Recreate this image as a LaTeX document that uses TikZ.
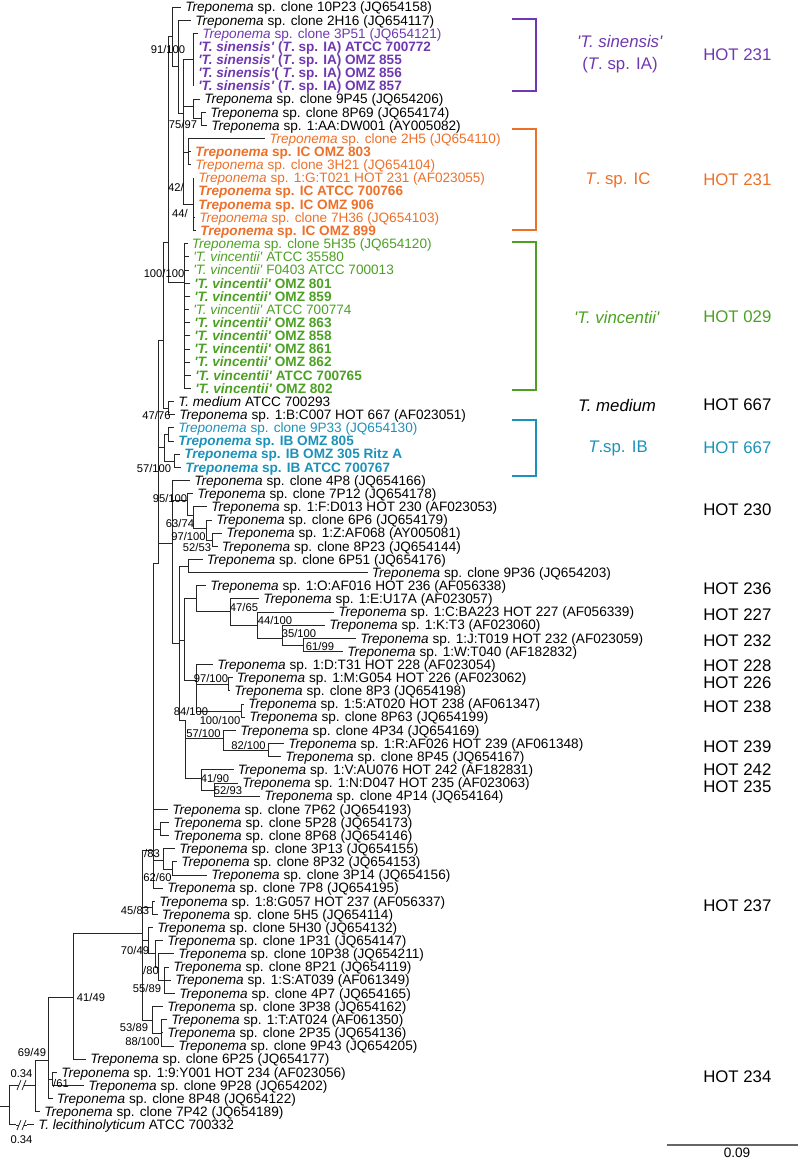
\documentclass[tikz,border=0pt]{standalone}
\usepackage{fontspec}
\setmainfont{Liberation Sans}
\definecolor{sinpurple}{RGB}{112,56,176}
\definecolor{icorange}{RGB}{237,112,42}
\definecolor{vingreen}{RGB}{76,160,36}
\definecolor{ibteal}{RGB}{28,146,186}
\newcommand{\Tr}{\textit{Treponema}}
\newcommand{\qs}{\textquotesingle}
\newcommand{\sinn}{\textit{\qs T. sinensis\qs}}
\newcommand{\vin}{\textit{\qs T. vincentii\qs}}
\tikzset{
  br/.style={draw=black!85,line width=0.6pt},
  leaf/.style={anchor=west,inner xsep=3pt,inner ysep=0pt,text height=7.3pt,text depth=0pt,font=\fontsize{10.2}{11}\selectfont},
  boot/.style={inner sep=0pt,font=\fontsize{8.4}{9}\selectfont},
  clade/.style={inner sep=0pt,align=center,font=\fontsize{12.6}{16.5}\selectfont},
  hot/.style={anchor=west,inner sep=0pt,font=\fontsize{12.6}{15}\selectfont},
  brk/.style={line width=1.1pt}
}
\begin{document}
\begin{tikzpicture}[x=0.75pt,y=-0.75pt]
  \useasboundingbox (0,0) rectangle (800,1162);
  % leaves
  \node[leaf] (l1) at (181,7.0) {\Tr{} sp. clone 10P23 (JQ654158)};
  \node[leaf] (l2) at (191,20.2) {\Tr{} sp. clone 2H16 (JQ654117)};
  \node[leaf,text=sinpurple] (l3) at (198,33.3) {\Tr{} sp. clone 3P51 (JQ654121)};
  \node[leaf,text=sinpurple] (l4) at (194,46.5) {\textbf{\sinn{} (\textit{T}. sp. IA) ATCC 700772}};
  \node[leaf,text=sinpurple] (l5) at (194,59.6) {\textbf{\sinn{} (\textit{T}. sp. IA) OMZ 855}};
  \node[leaf,text=sinpurple] (l6) at (194,72.8) {\textbf{\sinn( \textit{T}. sp. IA) OMZ 856}};
  \node[leaf,text=sinpurple] (l7) at (194,85.9) {\textbf{\sinn{} (\textit{T}. sp. IA) OMZ 857}};
  \node[leaf] (l8) at (200,99.1) {\Tr{} sp. clone 9P45 (JQ654206)};
  \node[leaf] (l9) at (206,112.2) {\Tr{} sp. clone 8P69 (JQ654174)};
  \node[leaf] (l10) at (207,125.4) {\Tr{} sp. 1:AA:DW001 (AY005082)};
  \node[leaf,text=icorange] (l11) at (265,138.5) {\Tr{} sp. clone 2H5 (JQ654110)};
  \node[leaf,text=icorange] (l12) at (191,151.7) {\textbf{\Tr{} sp. IC OMZ 803}};
  \node[leaf,text=icorange] (l13) at (191,164.8) {\Tr{} sp. clone 3H21 (JQ654104)};
  \node[leaf,text=icorange] (l14) at (194,178.0) {\Tr{} sp. 1:G:T021 HOT 231 (AF023055)};
  \node[leaf,text=icorange] (l15) at (194,191.1) {\textbf{\Tr{} sp. IC ATCC 700766}};
  \node[leaf,text=icorange] (l16) at (194,204.3) {\textbf{\Tr{} sp. IC OMZ 906}};
  \node[leaf,text=icorange] (l17) at (195,217.4) {\Tr{} sp. clone 7H36 (JQ654103)};
  \node[leaf,text=icorange] (l18) at (196,230.6) {\textbf{\Tr{} sp. IC OMZ 899}};
  \node[leaf,text=vingreen] (l19) at (187.5,243.7) {\Tr{} sp. clone 5H35 (JQ654120)};
  \node[leaf,text=vingreen] (l20) at (189,256.9) {\vin{} ATCC 35580};
  \node[leaf,text=vingreen] (l21) at (189,270.0) {\vin{} F0403 ATCC 700013};
  \node[leaf,text=vingreen] (l22) at (190,283.2) {\textbf{\vin{} OMZ 801}};
  \node[leaf,text=vingreen] (l23) at (190,296.3) {\textbf{\vin{} OMZ 859}};
  \node[leaf,text=vingreen] (l24) at (189,309.5) {\vin{} ATCC 700774};
  \node[leaf,text=vingreen] (l25) at (190,322.6) {\textbf{\vin{} OMZ 863}};
  \node[leaf,text=vingreen] (l26) at (190,335.8) {\textbf{\vin{} OMZ 858}};
  \node[leaf,text=vingreen] (l27) at (190,348.9) {\textbf{\vin{} OMZ 861}};
  \node[leaf,text=vingreen] (l28) at (190,362.1) {\textbf{\vin{} OMZ 862}};
  \node[leaf,text=vingreen] (l29) at (191,375.2) {\textbf{\vin{} ATCC 700765}};
  \node[leaf,text=vingreen] (l30) at (191,388.4) {\textbf{\vin{} OMZ 802}};
  \node[leaf] (l31) at (174,401.5) {\textit{T. medium} ATCC 700293};
  \node[leaf] (l32) at (175,414.7) {\Tr{} sp. 1:B:C007 HOT 667 (AF023051)};
  \node[leaf,text=ibteal] (l33) at (174,427.8) {\Tr{} sp. clone 9P33 (JQ654130)};
  \node[leaf,text=ibteal] (l34) at (174,441.0) {\textbf{\Tr{} sp. IB OMZ 805}};
  \node[leaf,text=ibteal] (l35) at (180,454.1) {\textbf{\Tr{} sp. IB OMZ 305 Ritz A}};
  \node[leaf,text=ibteal] (l36) at (181,467.3) {\textbf{\Tr{} sp. IB ATCC 700767}};
  \node[leaf] (l37) at (190,480.4) {\Tr{} sp. clone 4P8 (JQ654166)};
  \node[leaf] (l38) at (193,493.6) {\Tr{} sp. clone 7P12 (JQ654178)};
  \node[leaf] (l39) at (207,506.7) {\Tr{} sp. 1:F:D013 HOT 230 (AF023053)};
  \node[leaf] (l40) at (212,519.9) {\Tr{} sp. clone 6P6 (JQ654179)};
  \node[leaf] (l41) at (222,533.0) {\Tr{} sp. 1:Z:AF068 (AY005081)};
  \node[leaf] (l42) at (217.5,546.2) {\Tr{} sp. clone 8P23 (JQ654144)};
  \node[leaf] (l43) at (202.5,559.3) {\Tr{} sp. clone 6P51 (JQ654176)};
  \node[leaf] (l44) at (367.5,572.5) {\Tr{} sp. clone 9P36 (JQ654203)};
  \node[leaf] (l45) at (206,585.6) {\Tr{} sp. 1:O:AF016 HOT 236 (AF056338)};
  \node[leaf] (l46) at (259,598.8) {\Tr{} sp. 1:E:U17A (AF023057)};
  \node[leaf] (l47) at (334,611.9) {\Tr{} sp. 1:C:BA223 HOT 227 (AF056339)};
  \node[leaf] (l48) at (325,625.1) {\Tr{} sp. 1:K:T3 (AF023060)};
  \node[leaf] (l49) at (356,638.2) {\Tr{} sp. 1:J:T019 HOT 232 (AF023059)};
  \node[leaf] (l50) at (343,651.4) {\Tr{} sp. 1:W:T040 (AF182832)};
  \node[leaf] (l51) at (213,664.5) {\Tr{} sp. 1:D:T31 HOT 228 (AF023054)};
  \node[leaf] (l52) at (232.5,677.7) {\Tr{} sp. 1:M:G054 HOT 226 (AF023062)};
  \node[leaf] (l53) at (230,690.8) {\Tr{} sp. clone 8P3 (JQ654198)};
  \node[leaf] (l54) at (244,704.0) {\Tr{} sp. 1:5:AT020 HOT 238 (AF061347)};
  \node[leaf] (l55) at (245,717.1) {\Tr{} sp. clone 8P63 (JQ654199)};
  \node[leaf] (l56) at (236,730.3) {\Tr{} sp. clone 4P34 (JQ654169)};
  \node[leaf] (l57) at (284,743.4) {\Tr{} sp. 1:R:AF026 HOT 239 (AF061348)};
  \node[leaf] (l58) at (281,756.6) {\Tr{} sp. clone 8P45 (JQ654167)};
  \node[leaf] (l59) at (233.5,769.7) {\Tr{} sp. 1:V:AU076 HOT 242 (AF182831)};
  \node[leaf] (l60) at (238,782.9) {\Tr{} sp. 1:N:D047 HOT 235 (AF023063)};
  \node[leaf] (l61) at (260,796.0) {\Tr{} sp. clone 4P14 (JQ654164)};
  \node[leaf] (l62) at (168,809.2) {\Tr{} sp. clone 7P62 (JQ654193)};
  \node[leaf] (l63) at (169,822.3) {\Tr{} sp. clone 5P28 (JQ654173)};
  \node[leaf] (l64) at (169,835.5) {\Tr{} sp. clone 8P68 (JQ654146)};
  \node[leaf] (l65) at (175,848.6) {\Tr{} sp. clone 3P13 (JQ654155)};
  \node[leaf] (l66) at (177,861.8) {\Tr{} sp. clone 8P32 (JQ654153)};
  \node[leaf] (l67) at (207,874.9) {\Tr{} sp. clone 3P14 (JQ654156)};
  \node[leaf] (l68) at (163,888.1) {\Tr{} sp. clone 7P8 (JQ654195)};
  \node[leaf] (l69) at (155,901.2) {\Tr{} sp. 1:8:G057 HOT 237 (AF056337)};
  \node[leaf] (l70) at (157.5,914.4) {\Tr{} sp. clone 5H5 (JQ654114)};
  \node[leaf] (l71) at (153,927.5) {\Tr{} sp. clone 5H30 (JQ654132)};
  \node[leaf] (l72) at (163,940.7) {\Tr{} sp. clone 1P31 (JQ654147)};
  \node[leaf] (l73) at (174,953.8) {\Tr{} sp. clone 10P38 (JQ654211)};
  \node[leaf] (l74) at (169,967.0) {\Tr{} sp. clone 8P21 (JQ654119)};
  \node[leaf] (l75) at (171,980.1) {\Tr{} sp. 1:S:AT039 (AF061349)};
  \node[leaf] (l76) at (175,993.3) {\Tr{} sp. clone 4P7 (JQ654165)};
  \node[leaf] (l77) at (163,1006.4) {\Tr{} sp. clone 3P38 (JQ654162)};
  \node[leaf] (l78) at (167,1019.6) {\Tr{} sp. 1:T:AT024 (AF061350)};
  \node[leaf] (l79) at (163,1032.7) {\Tr{} sp. clone 2P35 (JQ654136)};
  \node[leaf] (l80) at (174,1045.9) {\Tr{} sp. clone 9P43 (JQ654205)};
  \node[leaf] (l81) at (86,1059.0) {\Tr{} sp. clone 6P25 (JQ654177)};
  \node[leaf] (l82) at (57,1072.2) {\Tr{} sp. 1:9:Y001 HOT 234 (AF023056)};
  \node[leaf] (l83) at (84,1085.3) {\Tr{} sp. clone 9P28 (JQ654202)};
  \node[leaf] (l84) at (52.5,1098.5) {\Tr{} sp. clone 8P48 (JQ654122)};
  \node[leaf] (l85) at (40,1111.6) {\Tr{} sp. clone 7P42 (JQ654189)};
  \node[leaf] (l86) at (34,1124.8) {\textit{T. lecithinolyticum} ATCC 700332};
  % inner nodes
  \coordinate (rt0) at (0,1106); \coordinate (root) at (9,1106);
  \coordinate (n69) at (35,1085); \coordinate (n45) at (48,1060);
  \coordinate (n61) at (52.5,1079); \coordinate (n41) at (73,997);
  \coordinate (n133) at (142.5,933); \coordinate (n143) at (153,850);
  \coordinate (nG057) at (152,907); \coordinate (n70) at (148,940);
  \coordinate (n1P31) at (155,953); \coordinate (n10P38) at (158.5,967);
  \coordinate (n80) at (164,980); \coordinate (n53) at (152,1020);
  \coordinate (n88) at (161,1033); \coordinate (n5P28) at (160,829);
  \coordinate (n3P13) at (163,860); \coordinate (n8P32) at (172.5,869);
  \coordinate (n148) at (158.5,563); \coordinate (n152) at (163,340);
  \coordinate (nV) at (168,242); \coordinate (n91) at (172.5,36);
  \coordinate (n2) at (178,66); \coordinate (n3) at (183,113);
  \coordinate (nSin) at (193,59); \coordinate (n9P45) at (193,106);
  \coordinate (n8P69) at (201,118); \coordinate (nICa) at (188.5,152);
  \coordinate (nICb) at (193,204); \coordinate (nVinc) at (184,282);
  \coordinate (n47) at (168,408); \coordinate (nIB) at (164,447);
  \coordinate (n9P33) at (168,434); \coordinate (nRitz) at (174.5,461);
  \coordinate (n161) at (172.5,543); \coordinate (n7P12) at (187.5,500);
  \coordinate (n63) at (193,515); \coordinate (n97) at (206,528);
  \coordinate (n52) at (212,540); \coordinate (n167) at (179,643);
  \coordinate (n6P51) at (188.5,566); \coordinate (n172) at (184,640);
  \coordinate (n236) at (196,598); \coordinate (n4765) at (230,611);
  \coordinate (n44) at (257,625); \coordinate (n35) at (282,638);
  \coordinate (n6199) at (303,645); \coordinate (n84) at (196,680);
  \coordinate (nMG) at (228,684); \coordinate (n100) at (241,711);
  \coordinate (nD) at (185,720); \coordinate (n57) at (223,738);
  \coordinate (n82) at (268,750); \coordinate (n242) at (201,778);
  \coordinate (n5293) at (214,790);
  % branches
  \draw[br] (rt0) -- (root);
  \foreach \p/\c in {root/n69,root/l86.west,n69/n45,n69/l85.west,
      n45/n41,n45/n61,n45/l84.west,n61/l82.west,n61/l83.west,n41/n133,n41/l81.west,
      n133/n143,n133/nG057,n133/n70,n133/n53,nG057/l69.west,nG057/l70.west,
      n70/l71.west,n70/n1P31,n1P31/l72.west,n1P31/n10P38,n10P38/l73.west,n10P38/n80,
      n80/l74.west,n80/l75.west,n80/l76.west,n53/l77.west,n53/n88,
      n88/l78.west,n88/l79.west,n88/l80.west,
      n143/n148,n143/l62.west,n143/n5P28,n143/n3P13,n143/l68.west,
      n5P28/l63.west,n5P28/l64.west,n3P13/l65.west,n3P13/n8P32,n8P32/l66.west,n8P32/l67.west,
      n148/n152,n148/nIB,n148/n161,n152/nV,n152/n47,nV/n91,nV/nVinc,
      n91/l1.west,n91/n2,n2/l2.west,n2/n3,n3/nSin,n3/n9P45,n3/nICa,n3/nICb,
      nSin/l3.west,nSin/l4.west,nSin/l5.west,nSin/l6.west,nSin/l7.west,
      n9P45/l8.west,n9P45/n8P69,n8P69/l9.west,n8P69/l10.west,
      nICa/l11.west,nICa/l12.west,nICa/l13.west,
      nICb/l14.west,nICb/l15.west,nICb/l16.west,nICb/l17.west,nICb/l18.west,
      nVinc/l19.west,nVinc/l20.west,nVinc/l21.west,nVinc/l22.west,nVinc/l23.west,nVinc/l24.west,
      nVinc/l25.west,nVinc/l26.west,nVinc/l27.west,nVinc/l28.west,nVinc/l29.west,nVinc/l30.west,
      n47/l31.west,n47/l32.west,nIB/n9P33,nIB/nRitz,n9P33/l33.west,n9P33/l34.west,
      nRitz/l35.west,nRitz/l36.west,
      n161/l37.west,n161/n7P12,n161/n167,n7P12/l38.west,n7P12/n63,n63/l39.west,n63/n97,
      n97/l40.west,n97/n52,n52/l41.west,n52/l42.west,
      n167/n6P51,n167/n172,n167/nD,n6P51/l43.west,n6P51/l44.west,
      n172/n236,n172/n84,n236/l45.west,n236/n4765,n4765/l46.west,n4765/n44,
      n44/l47.west,n44/n35,n35/l48.west,n35/n6199,n6199/l49.west,n6199/l50.west,
      n84/l51.west,n84/nMG,n84/n100,nMG/l52.west,nMG/l53.west,n100/l54.west,n100/l55.west,
      nD/n57,nD/n242,n57/l56.west,n57/n82,n82/l57.west,n82/l58.west,
      n242/l59.west,n242/n5293,n5293/l60.west,n5293/l61.west}
    \draw[br] (\p) |- (\c);
  % breaks on the long root branches
  \fill[white] (16,1080) rectangle (27,1090);
  \fill[white] (16,1120) rectangle (27,1130);
  \draw[br] (17,1090)--(21,1080) (22,1090)--(26,1080);
  \draw[br] (17,1130)--(21,1120) (22,1130)--(26,1120);
  \draw[br] (16,1085)--(19,1085) (24,1085)--(27,1085);
  \draw[br] (16,1125)--(19,1125) (24,1125)--(27,1125);
  % support values
  \node[boot] (b91) at (168,50) {91/100};
  \node[boot] (b75) at (183,125) {75/97};
  \node[boot] (b42) at (176,187) {42/};
  \node[boot] (b44) at (180,213) {44/};
  \node[boot] (b100v) at (164,273) {100/100};
  \node[boot] (b47) at (156.5,415) {47/76};
  \node[boot] (b57) at (154,468) {57/100};
  \node[boot] (b95) at (170,498) {95/100};
  \node[boot] (b63) at (180,523) {63/74};
  \node[boot] (b97) at (188.5,536) {97/100};
  \node[boot] (b52) at (197,547) {52/53};
  \node[boot] (b4765) at (244,607) {47/65};
  \node[boot] (b44b) at (275,620) {44/100};
  \node[boot] (b35) at (299,633) {35/100};
  \node[boot] (b61) at (320,646) {61/99};
  \node[boot] (b97b) at (211,678) {97/100};
  \node[boot] (b84) at (191,711) {84/100};
  \node[boot] (b100b) at (220,720) {100/100};
  \node[boot] (b57b) at (203.5,733) {57/100};
  \node[boot] (b82) at (248.5,745) {82/100};
  \node[boot] (b41) at (215,778) {41/90};
  \node[boot] (b52b) at (228,790) {52/93};
  \node[boot] (b83) at (152,853) {/83};
  \node[boot] (b62) at (157.5,877) {62/60};
  \node[boot] (b45) at (135,910) {45/83};
  \node[boot] (b70) at (135,950) {70/49};
  \node[boot] (b80) at (151,970) {/80};
  \node[boot] (b55) at (147,988) {55/89};
  \node[boot] (b53) at (134,1027) {53/89};
  \node[boot] (b88) at (142.5,1041) {88/100};
  \node[boot] (b4149) at (91,997) {41/49};
  \node[boot] (b69) at (32,1052) {69/49};
  \node[boot] (b61b) at (61,1083) {/61};
  \node[boot] (d1) at (21.5,1074) {0.34};
  \node[boot] (d2) at (21.5,1140) {0.34};
  % clade brackets
  \draw[brk,sinpurple] (512,19) -| (536,91) -- (512,91);
  \draw[brk,icorange] (512,129) -| (536,230) -- (512,230);
  \draw[brk,vingreen] (512,242) -| (536,390) -- (512,390);
  \draw[brk,ibteal] (512,420) -| (536,476) -- (512,476);
  % clade names
  \node[clade,text=sinpurple] (csin) at (620,54) {\sinn\\(\textit{T}. sp. IA)};
  \node[clade,text=icorange] (cic) at (618,180) {\textit{T}. sp. IC};
  \node[clade,text=vingreen] (cvin) at (617,317) {\vin};
  \node[clade] (cmed) at (617,405) {\textit{T. medium}};
  \node[clade,text=ibteal] (cib) at (618,448) {\textit{T}.sp. IB};
  % HOT numbers
  \node[hot,text=sinpurple] (h1) at (703,55) {HOT 231};
  \node[hot,text=icorange] (h2) at (703,180) {HOT 231};
  \node[hot,text=vingreen] (h3) at (703,317) {HOT 029};
  \node[hot] (h4) at (703,405) {HOT 667};
  \node[hot,text=ibteal] (h5) at (703,448) {HOT 667};
  \node[hot] (h6) at (703,510) {HOT 230};
  \node[hot] (h7) at (703,589) {HOT 236};
  \node[hot] (h8) at (703,615) {HOT 227};
  \node[hot] (h9) at (703,641) {HOT 232};
  \node[hot] (h10) at (703,666) {HOT 228};
  \node[hot] (h11) at (703,683) {HOT 226};
  \node[hot] (h12) at (703,707) {HOT 238};
  \node[hot] (h13) at (703,747) {HOT 239};
  \node[hot] (h14) at (703,770) {HOT 242};
  \node[hot] (h15) at (703,787) {HOT 235};
  \node[hot] (h16) at (703,906) {HOT 237};
  \node[hot] (h17) at (703,1077) {HOT 234};
  % scale bar
  \coordinate (sbL) at (667,1145); \coordinate (sbR) at (798,1145);
  \draw[draw=black!60,line width=0.8pt] (sbL) -- (sbR);
  \node[inner sep=0pt,font=\fontsize{10.2}{11}\selectfont] (sb) at (737,1153) {0.09};
\end{tikzpicture}
\end{document}
